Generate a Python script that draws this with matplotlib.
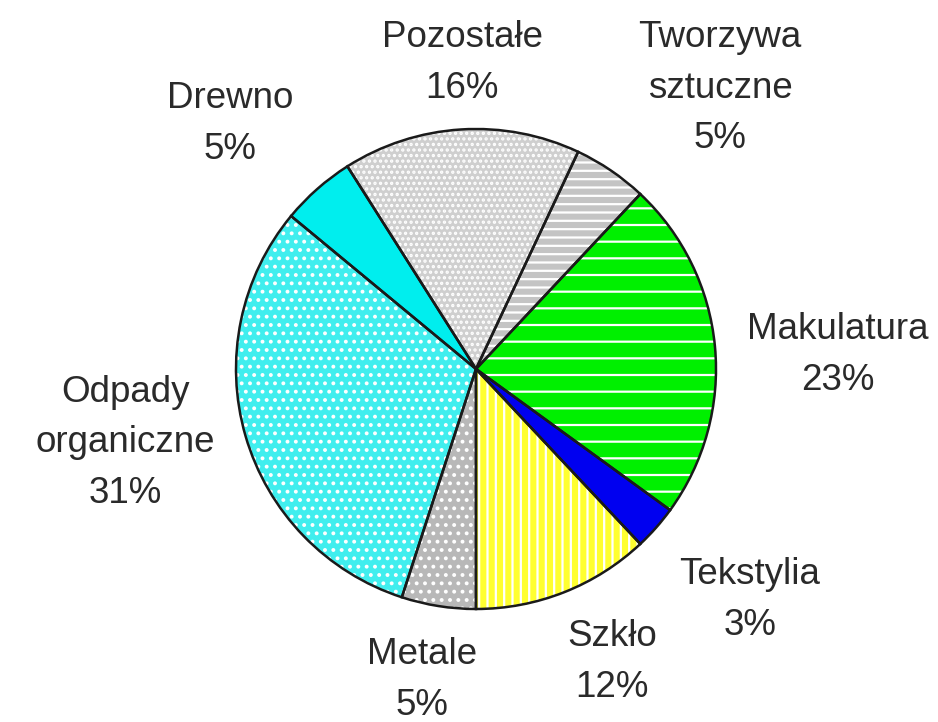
import matplotlib
matplotlib.use("Agg")
import matplotlib.pyplot as plt

# waste composition, clockwise from the top
labels = ["Tworzywa\nsztuczne", "Makulatura", "Tekstylia", "Szkło", "Metale",
          "Odpady\norganiczne", "Drewno", "Pozostałe"]
shares = [5, 23, 3, 12, 5, 31, 5, 16]

faces = ["#c4c4c4", "#00f000", "#0000f0", "#ffff30", "#b8b8b8",
         "#40eeee", "#00eeee", "#cfcfcf"]
hatches = ["--", "-", None, "||", "..", "..", None, "..."]

# label anchor points in pixels (x, y from top)
label_xy = [(720, 88), (838, 355), (750, 600), (612, 662), (422, 680),
            (125, 443), (230, 124), (462, 63)]

plt.rcParams["hatch.linewidth"] = 1.6
plt.rcParams["font.family"] = ["Liberation Sans", "DejaVu Sans"]

W, H = 938, 722
fig = plt.figure(figsize=(W / 100, H / 100), dpi=100)
ax = fig.add_axes([0, 0, 1, 1])

cx, cy, r = 476, H - 369, 240
start = 90 - 25.2

# fills with white hatching
wedges, _ = ax.pie(shares, startangle=start, counterclock=False,
                   colors=faces, center=(cx, cy), radius=r, frame=True,
                   wedgeprops=dict(edgecolor="white", linewidth=0))
for w, h in zip(wedges, hatches):
    if h:
        w.set_hatch(h)

# outlines
ax.pie(shares, startangle=start, counterclock=False, colors=["none"] * len(shares),
       center=(cx, cy), radius=r, frame=True,
       wedgeprops=dict(edgecolor="#1a1a1a", linewidth=1.8, fill=False))

for lab, s, (x, y) in zip(labels, shares, label_xy):
    ax.text(x, H - y, "%s\n%d%%" % (lab, s), ha="center", va="center",
            fontsize=26.5, color="#2a2a2a", linespacing=1.58)

ax.set_xlim(0, W)
ax.set_ylim(0, H)
ax.set_aspect("equal")
ax.axis("off")

fig.savefig("out.png", dpi=100, facecolor="white")
